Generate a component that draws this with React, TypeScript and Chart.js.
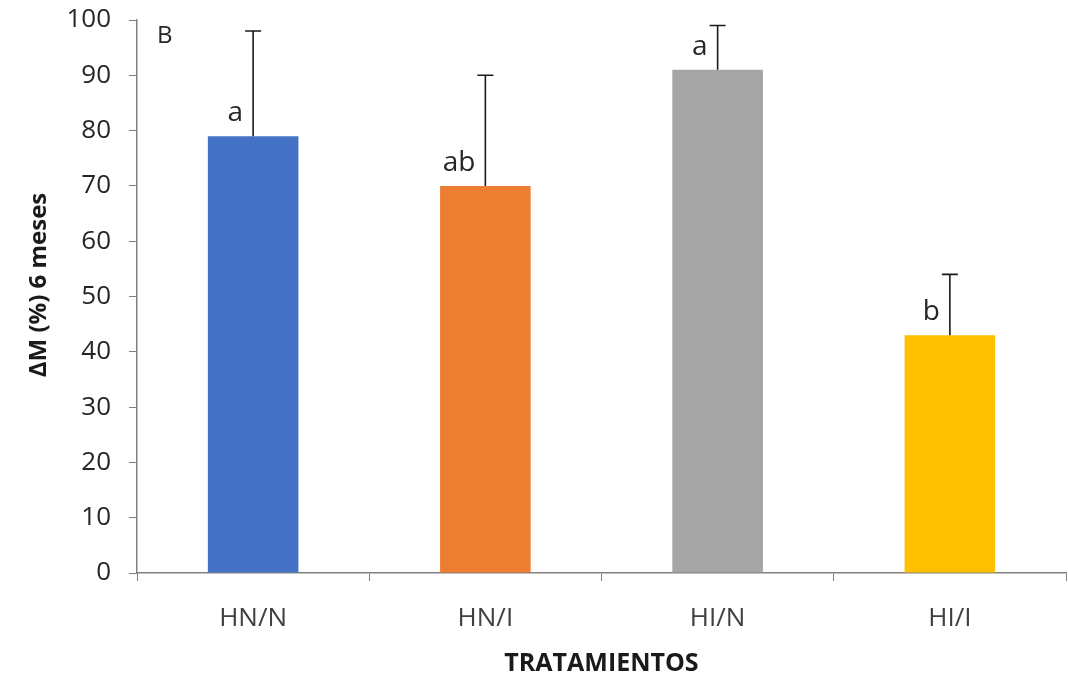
import React, { useEffect, useRef } from "react";
import { Chart, registerables } from "chart.js";

Chart.register(...registerables);

const categories = ["HN/N", "HN/I", "HI/N", "HI/I"];
const meanValues = [79, 70, 91, 43];
const errorValues = [19, 20, 8, 11];
const groupLetters = ["a", "ab", "a", "b"];
const barColors = ["#4472C4", "#ED7D31", "#A5A5A5", "#FFC000"];
const yTicks = [0, 10, 20, 30, 40, 50, 60, 70, 80, 90, 100];
const panelLabel = "B";
const yTitle = "ΔM (%) 6 meses";

const FONT = "'Open Sans', 'DejaVu Sans', sans-serif";
const AXIS_COLOR = "#808080";

const errorPlugin = {
  id: "errorBarsAndLetters",
  afterDatasetsDraw(chart: any) {
    const ctx = chart.ctx;
    const meta = chart.getDatasetMeta(0);
    const y = chart.scales.y;
    ctx.save();
    meta.data.forEach((bar: any, i: number) => {
      const x = bar.x;
      const yTop = y.getPixelForValue(meanValues[i]);
      const yErr = y.getPixelForValue(meanValues[i] + errorValues[i]);
      ctx.strokeStyle = "#1a1a1a";
      ctx.lineWidth = 1.6;
      ctx.beginPath();
      ctx.moveTo(x, yTop);
      ctx.lineTo(x, yErr);
      ctx.moveTo(x - 8, yErr);
      ctx.lineTo(x + 8, yErr);
      ctx.stroke();
      ctx.fillStyle = "#262626";
      ctx.font = `28px ${FONT}`;
      ctx.textAlign = "right";
      ctx.textBaseline = "alphabetic";
      ctx.fillText(groupLetters[i], x - 10, yTop - 15);
    });
    ctx.fillStyle = "#262626";
    ctx.font = `24px ${FONT}`;
    ctx.textAlign = "left";
    ctx.textBaseline = "alphabetic";
    ctx.fillText(panelLabel, chart.chartArea.left + 20, 43);

    // y-axis title
    ctx.fillStyle = "#1a1a1a";
    ctx.font = `bold 24px ${FONT}`;
    ctx.textAlign = "center";
    ctx.textBaseline = "middle";
    ctx.translate(39, 285);
    ctx.rotate(-Math.PI / 2);
    ctx.fillText(yTitle, 0, 0);
    ctx.restore();
  },
};

export default function App() {
  const ref = useRef<HTMLCanvasElement | null>(null);
  useEffect(() => {
    if (!ref.current) return;
    const chart = new Chart(ref.current, {
      type: "bar",
      data: {
        labels: categories,
        datasets: [
          {
            data: meanValues,
            backgroundColor: barColors,
            borderWidth: 0,
            barPercentage: 0.39,
            categoryPercentage: 1,
          },
        ],
      },
      options: {
        responsive: false,
        animation: false,
        layout: { padding: { top: 20, right: 2, left: 0, bottom: 0 } },
        plugins: { legend: { display: false }, tooltip: { enabled: false } },
        scales: {
          x: {
            grid: {
              offset: true,
              drawOnChartArea: false,
              drawTicks: true,
              tickLength: 8,
              color: AXIS_COLOR,
            },
            border: { display: true, color: AXIS_COLOR, width: 1.5 },
            ticks: {
              color: "#404040",
              font: { family: FONT, size: 26 },
              padding: 22,
            },
            title: {
              display: true,
              text: "TRATAMIENTOS",
              color: "#1a1a1a",
              font: { family: FONT, size: 25, weight: "bold" },
              padding: { top: 0, bottom: 0 },
            },
            afterFit(scale: any) {
              scale.height = 106;
              scale.paddingLeft = 0;
              scale.paddingRight = 0;
            },
          },
          y: {
            min: 0,
            max: 100,
            afterBuildTicks(scale: any) {
              scale.ticks = yTicks.map((v) => ({ value: v }));
            },
            grid: {
              drawOnChartArea: false,
              drawTicks: true,
              tickLength: 8,
              color: AXIS_COLOR,
            },
            border: { display: true, color: AXIS_COLOR, width: 1.5 },
            ticks: {
              color: "#262626",
              font: { family: FONT, size: 26 },
              padding: 18,
            },
            title: { display: false },
            afterFit(scale: any) {
              scale.width = 137;
              scale.paddingTop = 0;
              scale.paddingBottom = 0;
            },
          },
        },
      },
      plugins: [errorPlugin],
    });
    return () => chart.destroy();
  }, []);
  return (
    <div style={{ position: "absolute", left: 0, top: 0, width: 1068, height: 679, background: "#fff" }}>
      <canvas ref={ref} width={1068} height={679} style={{ display: "block" }} />
    </div>
  );
}
